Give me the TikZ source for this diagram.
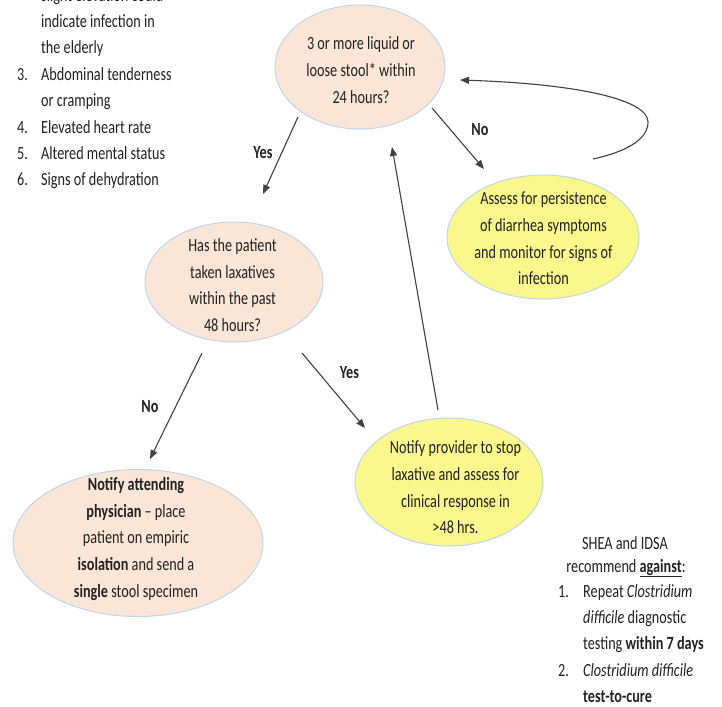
\documentclass[tikz,border=0pt]{standalone}
\usepackage{fontspec}
\setmainfont{Carlito}[FakeStretch=0.765]
\usetikzlibrary{arrows.meta,shapes.geometric}
\definecolor{peach}{RGB}{251,229,214}
\definecolor{yel}{RGB}{250,248,140}
\definecolor{rim}{RGB}{190,214,236}
\definecolor{ink}{RGB}{35,35,35}
\definecolor{arrc}{RGB}{65,65,65}
\begin{document}
\begin{tikzpicture}[x=1pt,y=-1pt,
  bub/.style={ellipse,draw=rim,line width=1pt,inner sep=0pt},
  txt/.style={text=ink,font=\fontsize{18.6}{26.7}\selectfont,align=center,inner sep=0pt},
  lst/.style={text=ink,font=\fontsize{18.6}{26}\selectfont,anchor=base west,inner sep=0pt},
  ctr/.style={text=ink,font=\fontsize{18.6}{26}\selectfont,anchor=base,inner sep=0pt},
  lab/.style={text=ink,font=\fontsize{18.6}{22}\selectfont\bfseries,inner sep=0pt},
  arr/.style={draw=arrc,line width=1.1pt,-{Triangle[length=9pt,width=7pt]}}]
\useasboundingbox (0,0) rectangle (722,706);
\fill[white] (0,0) rectangle (722,706);

% ellipses
\node[bub,fill=peach,minimum width=170pt,minimum height=124pt] (q1) at (360,67) {};
\node[txt] (q1t) at (361,70) {3 or more liquid or\\loose stool* within\\24 hours?};

\node[bub,fill=yel,minimum width=192pt,minimum height=124pt] (a1) at (543,237) {};
\node[txt] (a1t) at (543.5,238.5) {Assess for persistence\\of diarrhea symptoms\\and monitor for signs of\\infection};

\node[bub,fill=peach,minimum width=178pt,minimum height=120pt] (q2) at (234,282) {};
\node[txt] (q2t) at (232.5,285) {Has the patient\\taken laxatives\\within the past\\48 hours?};

\node[bub,fill=peach,minimum width=250pt,minimum height=147pt] (n1) at (138,543) {};
\node[txt] (n1t) at (136,539) {\textbf{Notify attending}\\\textbf{physician} -- place\\patient on empiric\\\textbf{isolation} and send a\\\textbf{single} stool specimen};

\node[bub,fill=yel,minimum width=188pt,minimum height=128pt] (p1) at (449,482) {};
\node[txt] (p1t) at (455.5,487.5) {Notify provider to stop\\laxative and assess for\\clinical response in\\>48 hrs.};

% connectors
\coordinate (yS) at (298,117); \coordinate (yE) at (263,194);
\draw[arr] (yS) -- (yE);
\node[lab] (yl1) at (263,153) {Yes};

\coordinate (nS) at (432,108); \coordinate (nE) at (484,169);
\draw[arr] (nS) -- (nE);
\node[lab] (nl1) at (480,130) {No};

\coordinate (cS) at (593,159); \coordinate (cM) at (648,122); \coordinate (cE) at (460,80);
\draw[arr] (cS) .. controls (625,152) and (648,140) .. (cM) .. controls (648,100) and (580,84) .. (cE);

\coordinate (uS) at (438,410); \coordinate (uE) at (392,147);
\draw[arr] (uS) -- (uE);

\coordinate (n2S) at (202,353); \coordinate (n2E) at (150,459);
\draw[arr] (n2S) -- (n2E);
\node[lab] (nl2) at (150,407) {No};

\coordinate (y2S) at (302,353); \coordinate (y2E) at (365,428);
\draw[arr] (y2S) -- (y2E);
\node[lab] (yl2) at (349.5,373) {Yes};

% left list
\node[lst] (l0) at (41,2) {slight elevation could};
\node[lst] (l1) at (41,27.4) {indicate infection in};
\node[lst] (l2) at (41,53.8) {the elderly};
\node[lst] (n3) at (17,80.2) {3.};
\node[lst] (l3) at (41,80.2) {Abdominal tenderness};
\node[lst] (l4) at (41,106.6) {or cramping};
\node[lst] (n4) at (17,133) {4.};
\node[lst] (l5) at (41,133) {Elevated heart rate};
\node[lst] (n5) at (17,159.4) {5.};
\node[lst] (l6) at (41,159.4) {Altered mental status};
\node[lst] (n6) at (17,185.8) {6.};
\node[lst] (l7) at (41,185.8) {Signs of dehydration};

% right note
\node[ctr] (r0) at (625,549) {SHEA and IDSA};
\node[ctr] (r1) at (626,572) {recommend \underline{\textbf{against}}:};
\node[lst] (rn1) at (558,597) {1.};
\node[lst] (r2) at (583,597) {Repeat \textit{Clostridium}};
\node[lst] (r3) at (583,623) {\textit{difficile} diagnostic};
\node[lst] (r4) at (583,649) {testing \textbf{within 7 days}};
\node[lst] (rn2) at (558,676) {2.};
\node[lst] (r5) at (583,676) {\textit{Clostridium difficile}};
\node[lst] (r6) at (583,702) {\textbf{test-to-cure}};
\end{tikzpicture}
\end{document}
